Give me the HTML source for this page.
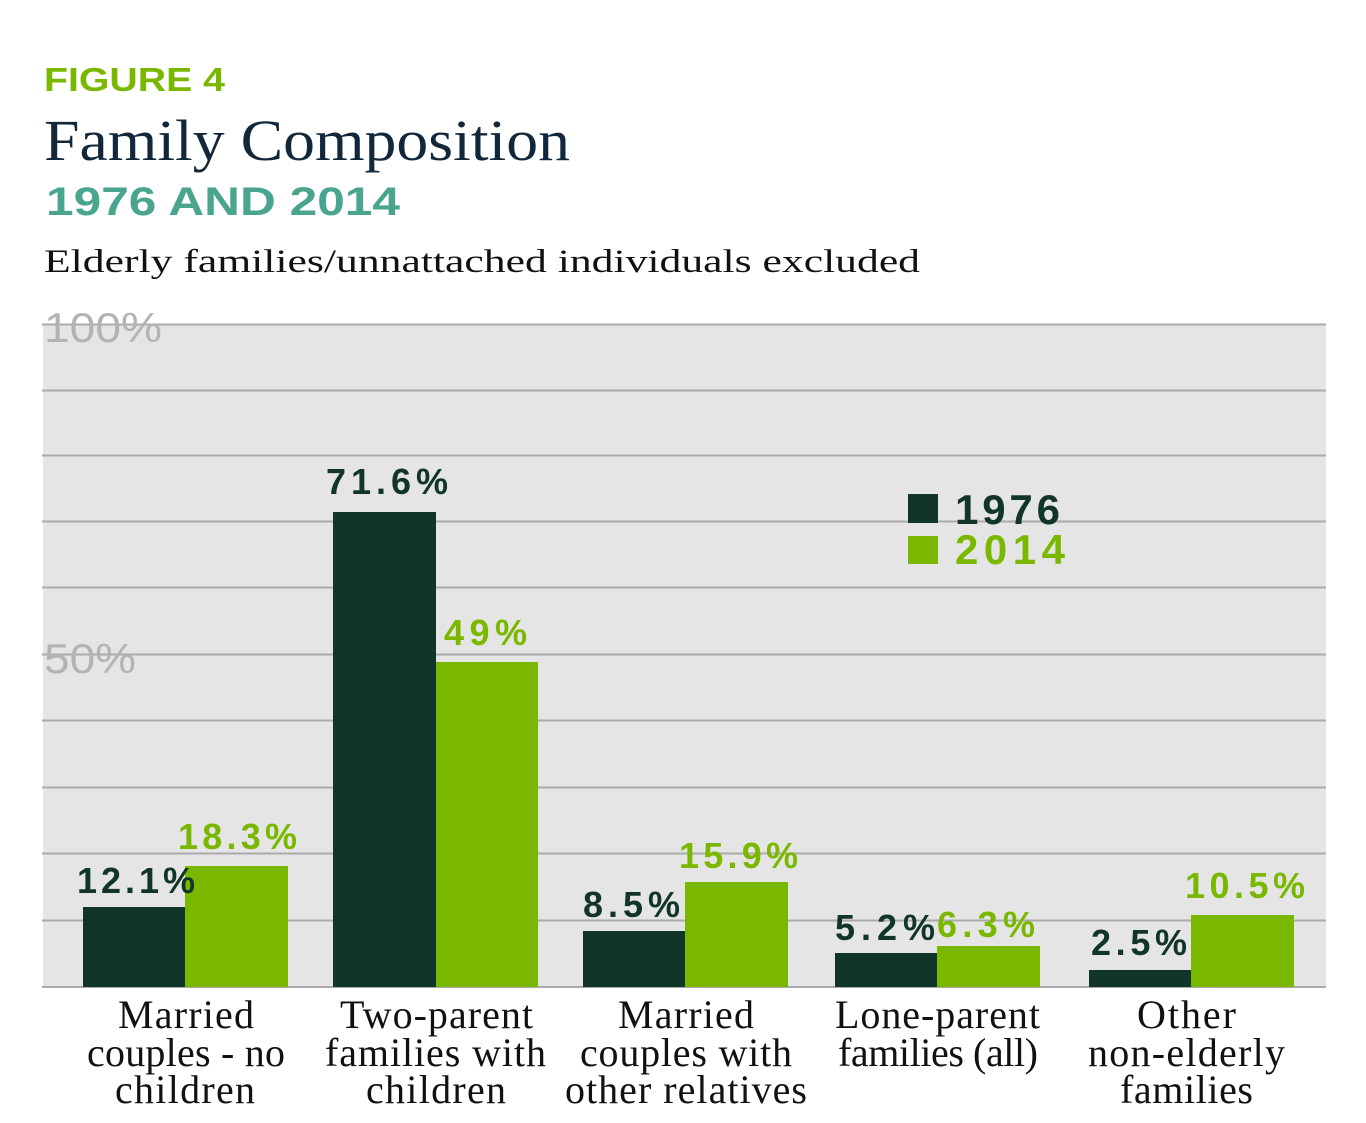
<!DOCTYPE html>
<html><head><meta charset="utf-8"><style>html,body{margin:0;padding:0;background:#fff}svg{display:block}</style></head><body>
<svg width="1366" height="1123" viewBox="0 0 1366 1123" xmlns="http://www.w3.org/2000/svg">
<text x="44" y="91" font-family="Liberation Sans, sans-serif" font-weight="bold" font-size="33" fill="#7ab800" textLength="181" lengthAdjust="spacingAndGlyphs">FIGURE 4</text>
<text x="44" y="160" font-family="Liberation Serif, serif" font-size="58" fill="#12283a" textLength="526" lengthAdjust="spacingAndGlyphs">Family Composition</text>
<text x="46" y="215" font-family="Liberation Sans, sans-serif" font-weight="bold" font-size="40" fill="#4aa58e" textLength="354" lengthAdjust="spacingAndGlyphs">1976 AND 2014</text>
<text x="44" y="272" font-family="Liberation Serif, serif" font-size="33" fill="#111" textLength="876" lengthAdjust="spacingAndGlyphs">Elderly families/unnattached individuals excluded</text>
<rect x="43" y="324" width="1283" height="663" fill="#e5e5e5"/>
<g stroke="#aaa" stroke-width="2">
<line x1="42" x2="1326" y1="324.5" y2="324.5"/><line x1="42" x2="1326" y1="390.5" y2="390.5"/>
<line x1="42" x2="1326" y1="455.5" y2="455.5"/><line x1="42" x2="1326" y1="521.5" y2="521.5"/>
<line x1="42" x2="1326" y1="587.5" y2="587.5"/><line x1="42" x2="1326" y1="654.5" y2="654.5"/>
<line x1="42" x2="1326" y1="720.5" y2="720.5"/><line x1="42" x2="1326" y1="787.5" y2="787.5"/>
<line x1="42" x2="1326" y1="853.5" y2="853.5"/><line x1="42" x2="1326" y1="920.5" y2="920.5"/>
<line x1="42" x2="1326" y1="987" y2="987"/>
</g>
<g font-family="Liberation Sans, sans-serif" font-size="42" fill="#b3b3b3">
<text x="44" y="342" textLength="118" lengthAdjust="spacingAndGlyphs">100%</text>
<text x="44" y="673" textLength="92" lengthAdjust="spacingAndGlyphs">50%</text>
</g>
<g fill="#12352a">
<rect x="83" y="907" width="102" height="80"/>
<rect x="333" y="512" width="103" height="475"/>
<rect x="583" y="931" width="102" height="56"/>
<rect x="835" y="953" width="102" height="34"/>
<rect x="1089" y="970" width="102" height="17"/>
</g>
<g fill="#7ab800">
<rect x="185" y="866" width="103" height="121"/>
<rect x="436" y="662" width="102" height="325"/>
<rect x="685" y="882" width="103" height="105"/>
<rect x="937" y="946" width="103" height="41"/>
<rect x="1191" y="915" width="103" height="72"/>
</g>
<rect x="908" y="494" width="30" height="29" fill="#12352a"/>
<rect x="908" y="536" width="30" height="28" fill="#7ab800"/>
<g font-family="Liberation Sans, sans-serif" font-weight="bold" font-size="42" lengthAdjust="spacingAndGlyphs">
<text x="955" y="524" fill="#12352a" textLength="105">1976</text>
<text x="955" y="564" fill="#7ab800" textLength="110">2014</text>
</g>
<g font-family="Liberation Sans, sans-serif" font-weight="bold" font-size="36" lengthAdjust="spacingAndGlyphs">
<text x="77" y="893" fill="#12352a" textLength="118">12.1%</text>
<text x="178" y="849" fill="#7ab800" textLength="119">18.3%</text>
<text x="326" y="494" fill="#12352a" textLength="122">71.6%</text>
<text x="444" y="645" fill="#7ab800" textLength="83">49%</text>
<text x="583" y="917" fill="#12352a" textLength="97">8.5%</text>
<text x="679" y="868" fill="#7ab800" textLength="119">15.9%</text>
<text x="835" y="940" fill="#12352a" textLength="100">5.2%</text>
<text x="937" y="937" fill="#7ab800" textLength="98">6.3%</text>
<text x="1091" y="955" fill="#12352a" textLength="96">2.5%</text>
<text x="1185" y="898" fill="#7ab800" textLength="120">10.5%</text>
</g>
<g font-family="Liberation Serif, serif" font-size="40" fill="#111" lengthAdjust="spacingAndGlyphs">
<text x="118" y="1028" textLength="136">Married</text><text x="87" y="1066" textLength="198">couples - no</text><text x="115" y="1103" textLength="140">children</text>
<text x="340" y="1028" textLength="193">Two-parent</text><text x="325" y="1066" textLength="221">families with</text><text x="366" y="1103" textLength="140">children</text>
<text x="618" y="1028" textLength="136">Married</text><text x="580" y="1066" textLength="212">couples with</text><text x="565" y="1103" textLength="242">other relatives</text>
<text x="835" y="1028" textLength="205">Lone-parent</text><text x="838" y="1066" textLength="200">families (all)</text>
<text x="1137" y="1028" textLength="99">Other</text><text x="1088" y="1066" textLength="197">non-elderly</text><text x="1120" y="1103" textLength="133">families</text>
</g>
</svg>
</body></html>
